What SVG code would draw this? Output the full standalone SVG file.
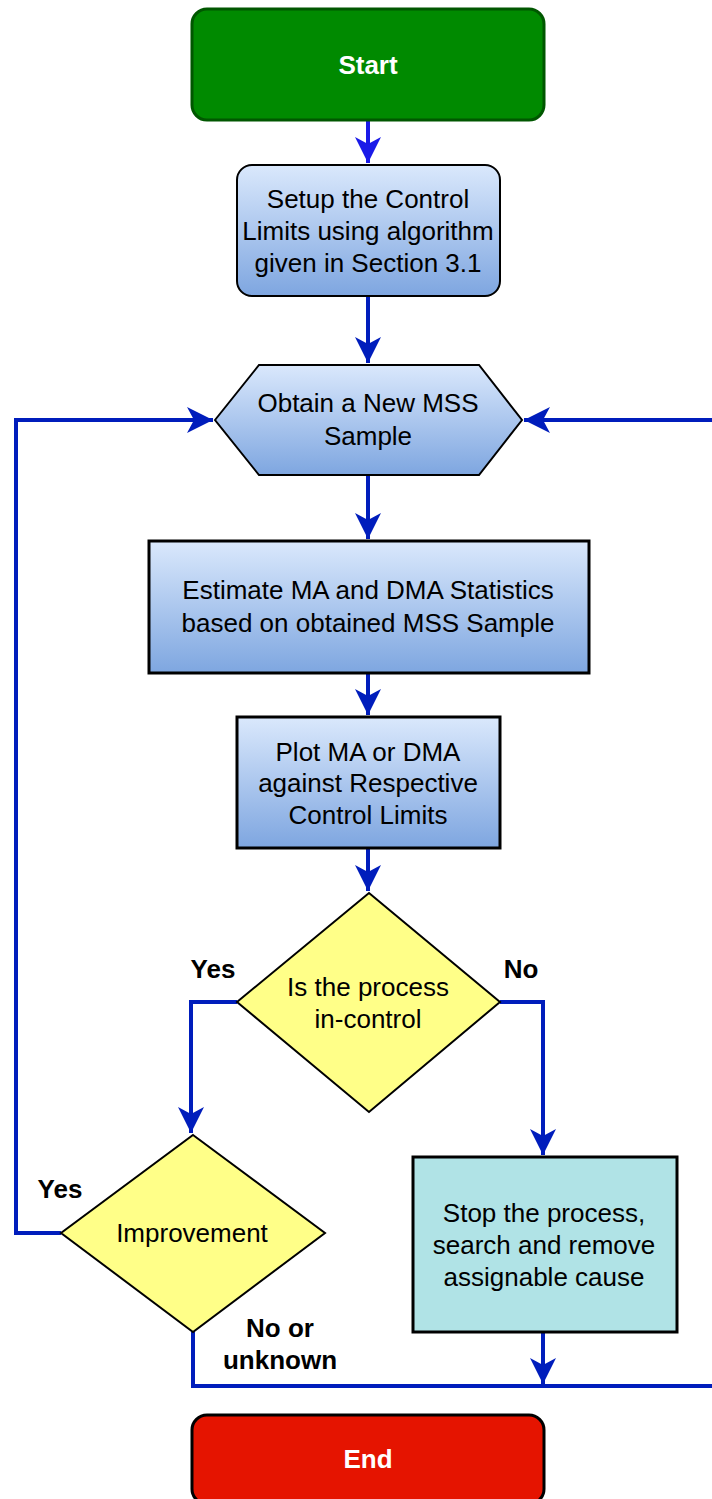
<svg xmlns="http://www.w3.org/2000/svg" width="712" height="1499" viewBox="0 0 712 1499">
  <defs>
    <linearGradient id="blueFill" x1="0" y1="0" x2="0" y2="1">
      <stop offset="0" stop-color="#dae8fc"/>
      <stop offset="1" stop-color="#7ea6e0"/>
    </linearGradient>
    <marker id="arrow" markerUnits="userSpaceOnUse" markerWidth="30" markerHeight="30" viewBox="-28 -15 30 30" refX="0" refY="0" orient="auto">
      <path d="M0,0 L-26,-13 L-19,0 L-26,13 Z" fill="#001DBC"/>
    </marker>
    <marker id="arrowBright" markerUnits="userSpaceOnUse" markerWidth="30" markerHeight="30" viewBox="-28 -15 30 30" refX="0" refY="0" orient="auto">
      <path d="M0,0 L-26,-13 L-19,0 L-26,13 Z" fill="#1a1ae8"/>
    </marker>
    <style>
      .lbl { font-family: "Liberation Sans", Arial, sans-serif; font-size: 26px; fill: #000; text-anchor: middle; dominant-baseline: central; }
      .bold { font-weight: bold; }
      .white { fill: #fff; font-weight: bold; }
      .edge { fill: none; stroke: #001DBC; stroke-width: 4; }
      .proc { fill: url(#blueFill); stroke: #000; }
      .decision { fill: #ffff88; stroke: #000; stroke-width: 2; }
    </style>
  </defs>

  <!-- connectors -->
  <g id="connectors">
    <path class="edge" d="M368,121 V163" style="stroke:#1a1ae8" marker-end="url(#arrowBright)"/>
    <path class="edge" d="M368,297 V363" marker-end="url(#arrow)"/>
    <path class="edge" d="M368,475 V539" marker-end="url(#arrow)"/>
    <path class="edge" d="M368,673 V715" marker-end="url(#arrow)"/>
    <path class="edge" d="M368,849 V891" marker-end="url(#arrow)"/>
    <path class="edge" d="M237,1002 H191 V1133" marker-end="url(#arrow)"/>
    <path class="edge" d="M500,1002 H543 V1155" marker-end="url(#arrow)"/>
    <path class="edge" d="M61,1233 H16 V420 H213" marker-end="url(#arrow)"/>
    <path class="edge" d="M193,1332 V1386 H720 V420 H524" marker-end="url(#arrow)"/>
    <path class="edge" d="M543,1332 V1384" marker-end="url(#arrow)"/>
  </g>

  <!-- branch labels -->
  <g id="edge-labels">
    <text class="lbl bold" x="213" y="969">Yes</text>
    <text class="lbl bold" x="521" y="969">No</text>
    <text class="lbl bold" x="60" y="1189">Yes</text>
    <text class="lbl bold" x="280" y="1328">No or</text>
    <text class="lbl bold" x="280" y="1360">unknown</text>
  </g>

  <g id="start">
    <rect x="192" y="9" width="352" height="111" rx="15" fill="#008a00" stroke="#005700" stroke-width="3"/>
    <text class="lbl white" x="368" y="65">Start</text>
  </g>

  <g id="setup">
    <rect class="proc" x="237" y="165" width="263" height="131" rx="15" stroke-width="2"/>
    <text class="lbl" x="368" y="199">Setup the Control</text>
    <text class="lbl" x="368" y="231">Limits using algorithm</text>
    <text class="lbl" x="368" y="263">given in Section 3.1</text>
  </g>

  <g id="obtain-sample">
    <polygon class="proc" points="215,420 259,365 479,365 522,420 479,475 259,475" stroke-width="2"/>
    <text class="lbl" x="368" y="403">Obtain a New MSS</text>
    <text class="lbl" x="368" y="436">Sample</text>
  </g>

  <g id="estimate">
    <rect class="proc" x="149" y="541" width="440" height="132" stroke-width="3"/>
    <text class="lbl" x="368" y="590">Estimate MA and DMA Statistics</text>
    <text class="lbl" x="368" y="623">based on obtained MSS Sample</text>
  </g>

  <g id="plot">
    <rect class="proc" x="237" y="717" width="263" height="131" stroke-width="3"/>
    <text class="lbl" x="368" y="752">Plot MA or DMA</text>
    <text class="lbl" x="368" y="783">against Respective</text>
    <text class="lbl" x="368" y="815">Control Limits</text>
  </g>

  <g id="in-control">
    <polygon class="decision" points="369,893 500,1002 369,1112 237,1002"/>
    <text class="lbl" x="368" y="987">Is the process</text>
    <text class="lbl" x="368" y="1019">in-control</text>
  </g>

  <g id="improvement">
    <polygon class="decision" points="193,1135 325,1233 193,1332 61,1233"/>
    <text class="lbl" x="192" y="1233">Improvement</text>
  </g>

  <g id="stop">
    <rect x="413" y="1157" width="264" height="175" fill="#b0e3e6" stroke="#000" stroke-width="3"/>
    <text class="lbl" x="544" y="1213">Stop the process,</text>
    <text class="lbl" x="544" y="1245">search and remove</text>
    <text class="lbl" x="544" y="1277">assignable cause</text>
  </g>

  <g id="end">
    <rect x="192" y="1415" width="352" height="89" rx="15" fill="#e51400" stroke="#000" stroke-width="3"/>
    <text class="lbl white" x="368" y="1459">End</text>
  </g>
</svg>
